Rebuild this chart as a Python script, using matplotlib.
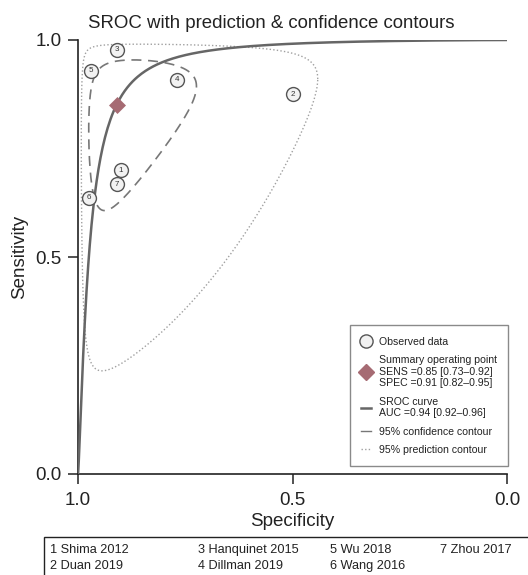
import numpy as np
import matplotlib
matplotlib.use('Agg')
import matplotlib.pyplot as plt
from matplotlib.lines import Line2D
from matplotlib.patches import Rectangle

plt.rcParams['font.family'] = ['Liberation Sans', 'DejaVu Sans']

# ---- data ----
study_ids = [1, 2, 3, 4, 5, 6, 7]
study_names = ["Shima 2012", "Duan 2019", "Hanquinet 2015", "Dillman 2019",
               "Wu 2018", "Wang 2016", "Zhou 2017"]
study_spec = [0.90, 0.50, 0.91, 0.77, 0.97, 0.975, 0.91]
study_sens = [0.70, 0.875, 0.977, 0.908, 0.929, 0.636, 0.668]

summary_sens = 0.85
summary_spec = 0.91
legend_summary = "Summary operating point\nSENS =0.85 [0.73\u20130.92]\nSPEC =0.91 [0.82\u20130.95]"
legend_sroc = "SROC curve\nAUC =0.94 [0.92\u20130.96]"

# SROC model (logit space): logit(sens) = alpha + beta * logit(1 - spec)
sroc_alpha = 4.75
sroc_beta = 1.3
# contour ellipses in logit space around the summary point:
# half-widths (logit FPR, logit sens) and correlation
conf_half = (1.35, 1.30)
conf_rho = 0.30
pred_half = (2.55, 2.90)
pred_rho = 0.20

tick_vals = [0.0, 0.5, 1.0]
tick_labels = ["0.0", "0.5", "1.0"]


def logit(p):
    return np.log(p / (1 - p))


def expit(x):
    return 1 / (1 + np.exp(-x))


def ellipse(half, rho):
    t = np.linspace(0, 2 * np.pi, 500)
    mx = logit(1 - summary_spec)
    my = logit(summary_sens)
    u = np.cos(t)
    v = rho * np.cos(t) + np.sqrt(1 - rho ** 2) * np.sin(t)
    fpr = expit(mx + half[0] * u)
    sens = expit(my + half[1] * v)
    return 1 - fpr, sens


fig = plt.figure(figsize=(5.28, 5.75), dpi=100)
ax = fig.add_axes([78 / 528, 1 - 474 / 575, 429 / 528, 434 / 575])

# SROC curve
fpr = np.concatenate([np.logspace(-7, -1, 300), np.linspace(0.1, 1 - 1e-7, 300)])
sens_curve = expit(sroc_alpha + sroc_beta * logit(fpr))
ax.plot(1 - fpr, sens_curve, color='#666666', lw=1.8, zorder=3)

# contours
cx, cy = ellipse(conf_half, conf_rho)
ax.plot(cx, cy, color='#777777', lw=1.2, ls=(0, (6, 4)), zorder=2)
px, py = ellipse(pred_half, pred_rho)
ax.plot(px, py, color='#a0a0a0', lw=1.0, ls=(0, (1, 1.6)), zorder=2)

# observed studies
ax.scatter(study_spec, study_sens, s=100, facecolor='#f2f2f2', edgecolor='#555555',
           linewidth=1.0, zorder=4)
for i, sp, se in zip(study_ids, study_spec, study_sens):
    ax.text(sp, se, str(i), ha='center', va='center', fontsize=5.8, color='#333333', zorder=5)

# summary point
ax.scatter([summary_spec], [summary_sens], marker='D', s=75, color='#a66b73', zorder=6,
           linewidth=0)

ax.set_xlim(1, 0)
ax.set_ylim(0, 1)
ax.set_xticks(tick_vals)
ax.set_xticklabels(tick_labels)
ax.set_yticks(tick_vals)
ax.set_yticklabels(tick_labels)
for s in ['top', 'right']:
    ax.spines[s].set_visible(False)
for s in ['left', 'bottom']:
    ax.spines[s].set_linewidth(1.2)
    ax.spines[s].set_color('#222222')
ax.tick_params(axis='both', direction='out', length=7, width=1.1, labelsize=13.5,
               color='#222222', labelcolor='#222222')
ax.tick_params(axis='y', pad=5)
ax.tick_params(axis='x', pad=6)
ax.set_xlabel("Specificity", fontsize=13.5, labelpad=3, color='#222222')
ax.set_ylabel("Sensitivity", fontsize=13.5, labelpad=5, color='#222222')
ax.set_title("SROC with prediction & confidence contours", fontsize=13.4, pad=9, x=0.45,
             color='#222222')

handles = [
    Line2D([], [], marker='o', ms=9.5, mfc='#f2f2f2', mec='#555555', ls='none'),
    Line2D([], [], marker='D', ms=8, color='#a66b73', ls='none'),
    Line2D([], [], color='#666666', lw=1.8),
    Line2D([], [], color='#777777', lw=1.0),
    Line2D([], [], color='#a0a0a0', lw=1.0, ls=(0, (1, 1.6))),
]
labels = ["Observed data", legend_summary, legend_sroc,
          "95% confidence contour", "95% prediction contour"]
leg = ax.legend(handles, labels, loc='lower right', bbox_to_anchor=(1.002, 0.018),
                borderaxespad=0, fontsize=7.6, handlelength=1.0, handletextpad=0.7,
                labelspacing=0.8, borderpad=1.05, fancybox=False, framealpha=1,
                edgecolor='#8a8a8a')
leg.get_frame().set_linewidth(1.0)
for t in leg.get_texts():
    t.set_linespacing(1.2)
    t.set_color('#222222')

# study key box
fig.patches.append(Rectangle((44 / 528, -0.05), 1.0, 1 - 537 / 575 + 0.05,
                             transform=fig.transFigure, fill=False, lw=1.0,
                             edgecolor='#222222'))
col_x = [50 / 528, 198 / 528, 330 / 528, 440 / 528]
row_y = [1 - 550 / 575, 1 - 566 / 575]
for k, (i, name) in enumerate(zip(study_ids, study_names)):
    fig.text(col_x[k // 2], row_y[k % 2], f"{i} {name}", fontsize=9.2,
             ha='left', va='center', color='#222222')

fig.savefig('out.png', dpi=100)
